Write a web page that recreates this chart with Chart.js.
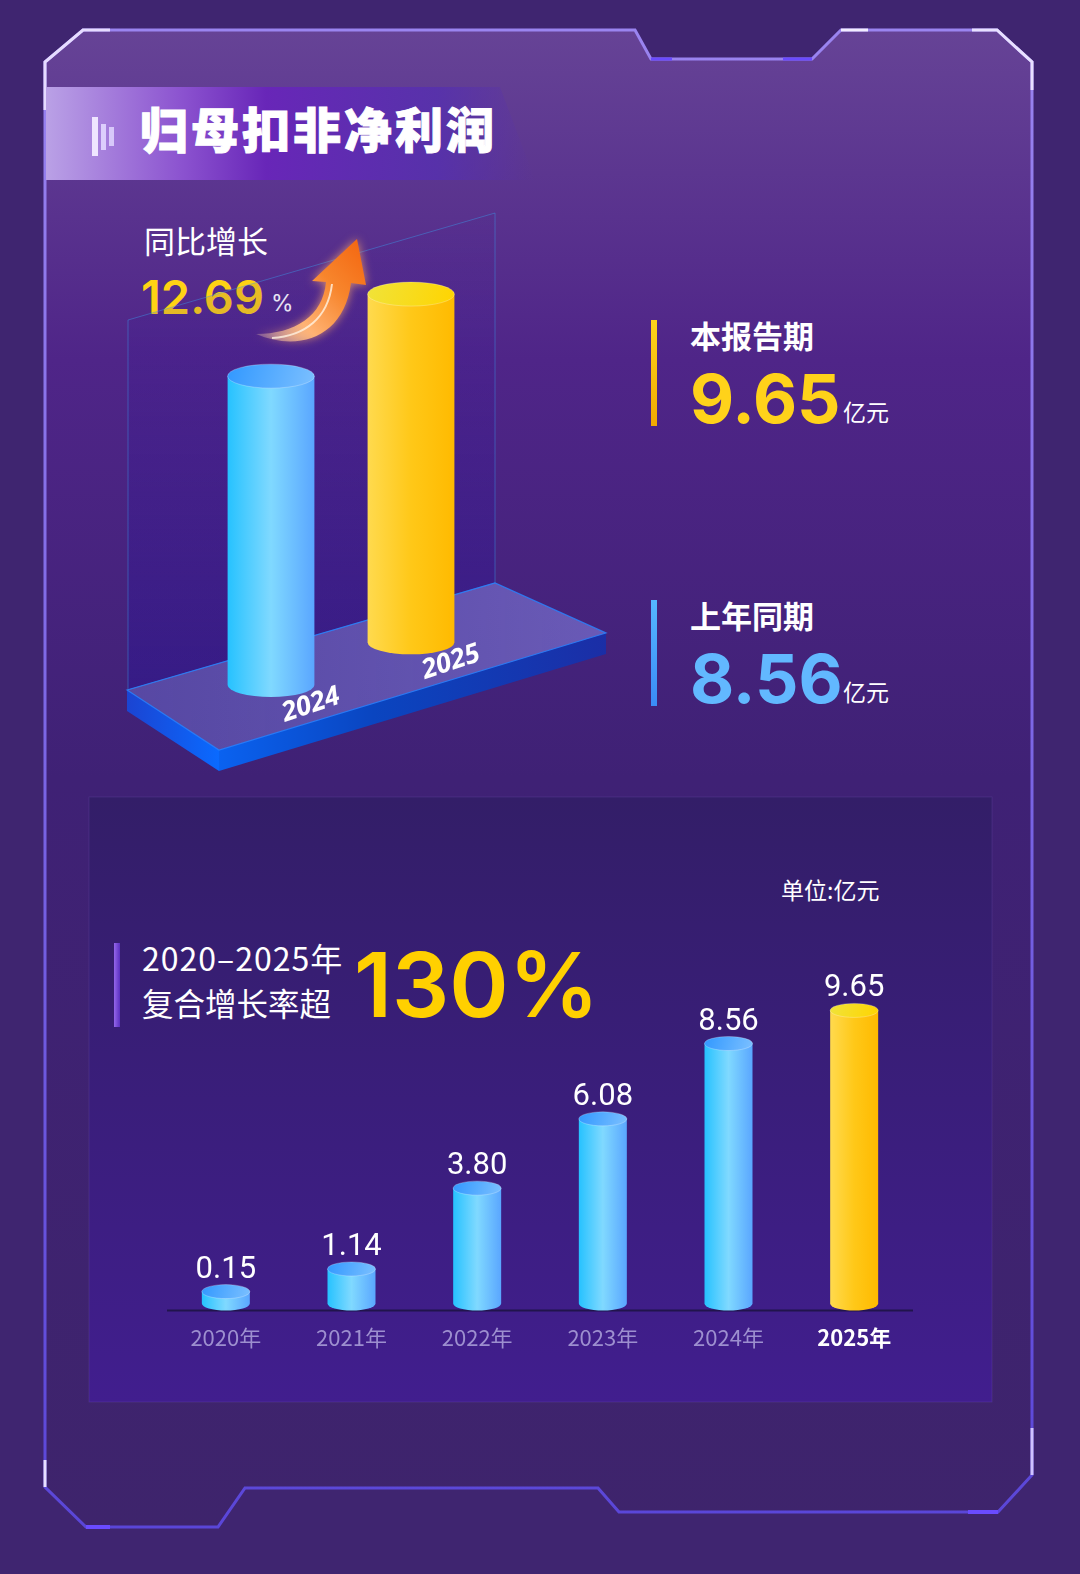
<!DOCTYPE html>
<html lang="zh">
<head>
<meta charset="utf-8">
<title>归母扣非净利润</title>
<script src="https://cdn.jsdelivr.net/npm/chart.js@4.4.1/dist/chart.umd.min.js"></script>
<style>
  body { margin: 0; width: 1080px; height: 1574px; overflow: hidden; background: #3f2570; position: relative;
         font-family: "Noto Sans CJK SC", "Noto Sans", sans-serif; }
  .abs { position: absolute; line-height: 1; white-space: nowrap; color: #fff; }
  .num { font-family: Inter, "Noto Sans", sans-serif; }
  canvas { position: absolute; }
</style>
</head>
<body>
<svg class="abs" width="1080" height="1574" style="left:0;top:0">
  <defs>
    <linearGradient id="inner" x1="0" y1="0" x2="0" y2="1">
      <stop offset="0" stop-color="#664396"/>
      <stop offset="0.22" stop-color="#4f2588"/>
      <stop offset="0.5" stop-color="#3f2175"/>
      <stop offset="1" stop-color="#3e246c"/>
    </linearGradient>
    <linearGradient id="edge" x1="0" y1="0" x2="0" y2="1">
      <stop offset="0" stop-color="#9a84f0"/>
      <stop offset="1" stop-color="#5a46d8"/>
    </linearGradient>
    <linearGradient id="banner" x1="0" y1="0" x2="1" y2="0">
      <stop offset="0" stop-color="#baa1e6"/>
      <stop offset="0.28" stop-color="#8b52cf"/>
      <stop offset="0.45" stop-color="#6826b8"/>
      <stop offset="0.8" stop-color="#5630ae" stop-opacity="0.85"/>
      <stop offset="1" stop-color="#5630ae" stop-opacity="0"/>
    </linearGradient>
    <linearGradient id="panel" x1="0" y1="0" x2="0" y2="1">
      <stop offset="0" stop-color="#331e68"/>
      <stop offset="1" stop-color="#411e8e"/>
    </linearGradient>
    <linearGradient id="barY" x1="0" y1="0" x2="0" y2="1">
      <stop offset="0" stop-color="#ffd51c"/>
      <stop offset="1" stop-color="#f2a900"/>
    </linearGradient>
    <linearGradient id="barB" x1="0" y1="0" x2="0" y2="1">
      <stop offset="0" stop-color="#55b6ff"/>
      <stop offset="1" stop-color="#3a8cf6"/>
    </linearGradient>
    <linearGradient id="barP" x1="0" y1="0" x2="1" y2="0">
      <stop offset="0" stop-color="#9466ea"/>
      <stop offset="1" stop-color="#5a2fc0"/>
    </linearGradient>
  </defs>
  <path d="M45,62 L83,30 L635,30 L651,59 L812,59 L841,30 L997,30 L1032,62 L1032,1475 L998,1512 L619,1512 L598,1488 L245,1488 L218,1527 L86,1527 L45,1487 Z"
        fill="url(#inner)" stroke="url(#edge)" stroke-width="3"/>
  <!-- highlights on the frame -->
  <path d="M45,110 L45,62 L83,30 L110,30" fill="none" stroke="#e6dcff" stroke-width="3"/>
  <path d="M841,30 L868,30" stroke="#f2ecff" stroke-width="3"/>
  <path d="M972,30 L997,30 L1032,62 L1032,90" fill="none" stroke="#e8e0ff" stroke-width="3"/>
  <path d="M651,59 L672,59 M783,59 L812,59" stroke="#6a4bff" stroke-width="3"/>
  <path d="M45,1460 L45,1487" stroke="#e8e0ff" stroke-width="3"/>
  <path d="M86,1527 L110,1527 M968,1512 L998,1512" stroke="#6a4bff" stroke-width="4"/>
  <path d="M1032,1428 L1032,1475" stroke="#cfc2ff" stroke-width="3"/>
  <!-- title banner -->
  <path d="M46,87 L500,87 L535,180 L46,180 Z" fill="url(#banner)"/>
  <rect x="92" y="117" width="6" height="39" fill="#efe6ff"/>
  <rect x="101" y="124" width="5" height="26" fill="#e2d6ff" opacity="0.9"/>
  <rect x="109" y="127" width="5" height="19" fill="#e2d6ff" opacity="0.85"/>
  <!-- side markers -->
  <rect x="651" y="320" width="6" height="106" fill="url(#barY)"/>
  <rect x="651" y="600" width="6" height="106" fill="url(#barB)"/>
  <!-- bottom panel -->
  <rect x="89" y="797" width="903" height="605" fill="url(#panel)" stroke="rgba(150,120,230,0.15)" stroke-width="1"/>
  <rect x="114" y="943" width="6" height="84" fill="url(#barP)"/>
</svg>

<div class="abs" style="left:140px;top:103px;font-size:48px;font-weight:900;letter-spacing:3px;-webkit-text-stroke:1px #fff;">归母扣非净利润</div>

<div class="abs" style="left:144px;top:224px;font-size:31px;">同比增长</div>
<div class="abs num" id="growth" style="left:141px;top:273px;font-size:47px;font-weight:600;color:#ffd214;"></div>
<div class="abs num" style="left:271px;top:292px;font-size:23px;">%</div>

<div class="abs" style="left:690px;top:319px;font-size:31px;font-weight:700;">本报告期</div>
<div class="abs num" id="curVal" style="left:690px;top:364px;font-size:68px;font-weight:700;color:#ffd21a;"></div>
<div class="abs" style="left:843px;top:400px;font-size:23px;">亿元</div>

<div class="abs" style="left:690px;top:599px;font-size:31px;font-weight:700;">上年同期</div>
<div class="abs num" id="prevVal" style="left:690px;top:644px;font-size:68px;font-weight:700;color:#62b8ff;"></div>
<div class="abs" style="left:843px;top:680px;font-size:23px;">亿元</div>

<div class="abs" style="left:781px;top:878px;font-size:23px;">单位:亿元</div>
<div class="abs" style="left:142px;top:941px;font-size:32px;letter-spacing:1px;">2020–2025年</div>
<div class="abs" style="left:142px;top:987px;font-size:31.5px;">复合增长率超</div>
<div class="abs num" id="cagr" style="left:354px;top:940px;font-size:90px;font-weight:600;color:#ffd000;"></div>

<canvas id="topChart" width="500" height="580" style="left:120px;top:200px"></canvas>
<canvas id="trendChart" width="903" height="466" style="left:89px;top:906px"></canvas>

<script>
// 上下两张图的数据
const topYears = ['2024', '2025'];
const topValues = [8.56, 9.65];
const growthText = '12.69';
const cagrText = '130%';

const years = ['2020年', '2021年', '2022年', '2023年', '2024年', '2025年'];
const profits = [0.15, 1.14, 3.80, 6.08, 8.56, 9.65];

document.getElementById('growth').textContent = growthText;
document.getElementById('curVal').textContent = topValues[1].toFixed(2);
document.getElementById('prevVal').textContent = topValues[0].toFixed(2);
document.getElementById('cagr').textContent = cagrText;

const BLUE = { body: ['#26c2ff', '#80d9ff', '#5aa6ff'], cap: ['#3198ff', '#7cc0ff'] };
const GOLD = { body: ['#ffda4e', '#ffc818', '#ffba00'], cap: ['#f0e33a', '#ffd400'] };

// 画一个圆柱 (柱身 + 顶面椭圆)
function drawCylinder(ctx, cx, top, base, w, ry, pal) {
    const l = cx - w / 2, r = cx + w / 2;
    let g = ctx.createLinearGradient(l, 0, r, 0);
    pal.body.forEach((c, i) => g.addColorStop(i / (pal.body.length - 1), c));
    ctx.beginPath();
    ctx.moveTo(l, top);
    ctx.lineTo(l, base);
    ctx.ellipse(cx, base, w / 2, ry, 0, Math.PI, 0, true);
    ctx.lineTo(r, top);
    ctx.closePath();
    ctx.fillStyle = g;
    ctx.fill();

    let gc = ctx.createLinearGradient(l, top - ry, r, top + ry);
    gc.addColorStop(0, pal.cap[0]);
    gc.addColorStop(1, pal.cap[1]);
    ctx.beginPath();
    ctx.ellipse(cx, top, w / 2, ry, 0, 0, Math.PI * 2);
    ctx.fillStyle = gc;
    ctx.fill();
    ctx.strokeStyle = 'rgba(255,255,255,0.25)';
    ctx.lineWidth = 1;
    ctx.stroke();
}

// 上图: 透视平台 + 圆柱
const SLOPE = -0.305;   // 平台的透视倾斜
const topDeco = {
    id: 'topDeco',
    beforeDatasetsDraw(chart) {
        const ctx = chart.ctx;
        ctx.save();
        // 背板
        let gp = ctx.createLinearGradient(0, 13, 0, 490);
        gp.addColorStop(0, 'rgba(60,30,160,0.05)');
        gp.addColorStop(1, 'rgba(40,20,150,0.45)');
        ctx.beginPath();
        ctx.moveTo(8, 120); ctx.lineTo(375, 13); ctx.lineTo(375, 383); ctx.lineTo(8, 490); ctx.closePath();
        ctx.fillStyle = gp; ctx.fill();
        ctx.strokeStyle = 'rgba(60,150,230,0.45)'; ctx.lineWidth = 1; ctx.stroke();

        // 平台侧面
        const T = 21;
        ctx.beginPath();
        ctx.moveTo(7, 490); ctx.lineTo(99, 550); ctx.lineTo(99, 550 + T); ctx.lineTo(7, 490 + T); ctx.closePath();
        let gl = ctx.createLinearGradient(7, 0, 99, 0);
        gl.addColorStop(0, '#1b44d2'); gl.addColorStop(1, '#0a6aff');
        ctx.fillStyle = gl; ctx.fill();
        ctx.beginPath();
        ctx.moveTo(99, 550); ctx.lineTo(486, 433); ctx.lineTo(486, 433 + T); ctx.lineTo(99, 550 + T); ctx.closePath();
        let gf = ctx.createLinearGradient(99, 0, 486, 0);
        gf.addColorStop(0, '#0a62f0'); gf.addColorStop(0.4, '#0a45c0'); gf.addColorStop(1, '#1b2ea6');
        ctx.fillStyle = gf; ctx.fill();
        // 平台顶面
        ctx.beginPath();
        ctx.moveTo(7, 490); ctx.lineTo(375, 383); ctx.lineTo(486, 433); ctx.lineTo(99, 550); ctx.closePath();
        let gt = ctx.createLinearGradient(7, 0, 486, 0);
        gt.addColorStop(0, 'rgba(100,96,190,0.62)');
        gt.addColorStop(1, 'rgba(120,112,205,0.72)');
        ctx.fillStyle = gt; ctx.fill();
        ctx.strokeStyle = 'rgba(40,130,255,0.85)'; ctx.lineWidth = 1.2; ctx.stroke();
        ctx.restore();
    },
    afterDatasetsDraw(chart) {
        const ctx = chart.ctx;
        const els = chart.getDatasetMeta(0).data;
        const x0 = els[0].x;
        ctx.save();
        els.forEach((el, i) => {
            const dy = (el.x - x0) * SLOPE;
            drawCylinder(ctx, el.x, el.y + dy, el.base + dy, el.width, 12, i === 1 ? GOLD : BLUE);
            // 年份标签, 沿平台方向
            ctx.save();
            ctx.translate(el.x + 40, el.base + dy + 20);
            ctx.rotate(-0.32);
            ctx.font = 'italic 700 27px "Open Sans"';
            ctx.fillStyle = '#fff';
            ctx.textAlign = 'center';
            ctx.textBaseline = 'middle';
            ctx.fillText(chart.data.labels[i], 0, 0);
            ctx.restore();
        });

        // 增长箭头
        ctx.beginPath();
        ctx.moveTo(136, 134);
        ctx.bezierCurveTo(178, 152, 224, 138, 231, 83);
        ctx.lineTo(246, 85);
        ctx.lineTo(237, 39);
        ctx.lineTo(192, 81);
        ctx.lineTo(206, 82);
        ctx.bezierCurveTo(203, 116, 175, 134, 136, 134);
        ctx.closePath();
        let ga = ctx.createLinearGradient(136, 134, 237, 39);
        ga.addColorStop(0, 'rgba(255,215,180,0.25)');
        ga.addColorStop(0.3, '#ffb374');
        ga.addColorStop(0.65, '#f7852c');
        ga.addColorStop(1, '#f46812');
        ctx.shadowColor = 'rgba(255,170,100,0.75)';
        ctx.shadowBlur = 10;
        ctx.fillStyle = ga;
        ctx.fill();
        ctx.shadowBlur = 0;
        ctx.beginPath();
        ctx.moveTo(152, 138);
        ctx.bezierCurveTo(185, 136, 208, 118, 212, 84);
        ctx.strokeStyle = 'rgba(255,242,225,0.8)';
        ctx.lineWidth = 2;
        ctx.stroke();
        ctx.restore();
    }
};

new Chart(document.getElementById('topChart'), {
    type: 'bar',
    data: {
        labels: topYears,
        datasets: [{ data: topValues, backgroundColor: 'rgba(0,0,0,0)', barPercentage: 0.62, categoryPercentage: 1 }]
    },
    options: {
        responsive: false,
        animation: false,
        layout: { padding: { left: 81, right: 139, top: 52, bottom: 95 } },
        scales: {
            x: { display: false },
            y: { display: false, min: 0, max: 12 }
        },
        plugins: { legend: { display: false }, tooltip: { enabled: false } }
    },
    plugins: [topDeco]
});

// 下图: 2020-2025 走势
const trendDeco = {
    id: 'trendDeco',
    beforeDatasetsDraw(chart) {
        const ctx = chart.ctx, a = chart.chartArea;
        ctx.save();
        ctx.strokeStyle = '#21144c';
        ctx.lineWidth = 2;
        ctx.beginPath();
        ctx.moveTo(a.left + 4, a.bottom + 7);
        ctx.lineTo(a.right - 4, a.bottom + 7);
        ctx.stroke();
        ctx.restore();
    },
    afterDatasetsDraw(chart) {
        const ctx = chart.ctx;
        const els = chart.getDatasetMeta(0).data;
        const vals = chart.data.datasets[0].data;
        ctx.save();
        els.forEach((el, i) => {
            drawCylinder(ctx, el.x, el.y, el.base, el.width, 7, i === els.length - 1 ? GOLD : BLUE);
            ctx.font = '31px Roboto';
            ctx.fillStyle = '#fff';
            ctx.textAlign = 'center';
            ctx.textBaseline = 'alphabetic';
            ctx.fillText(vals[i].toFixed(2), el.x, el.y - 14);
        });
        ctx.restore();
    }
};

new Chart(document.getElementById('trendChart'), {
    type: 'bar',
    data: {
        labels: years,
        datasets: [{
            data: profits, backgroundColor: 'rgba(0,0,0,0)',
            barPercentage: 0.382, categoryPercentage: 1, minBarLength: 12
        }]
    },
    options: {
        responsive: false,
        animation: false,
        layout: { padding: { left: 74, right: 75, top: 33, bottom: 0 } },
        scales: {
            x: {
                grid: { display: false, drawTicks: false },
                border: { display: false },
                ticks: {
                    padding: 21,
                    color: c => c.index === years.length - 1 ? '#ffffff' : '#9d8fcf',
                    font: c => ({ family: '"Noto Sans CJK SC"', size: 22, weight: c.index === years.length - 1 ? 'bold' : 'normal' })
                }
            },
            y: { display: false, min: 0, max: 12 }
        },
        plugins: { legend: { display: false }, tooltip: { enabled: false } }
    },
    plugins: [trendDeco]
});
</script>
</body>
</html>
